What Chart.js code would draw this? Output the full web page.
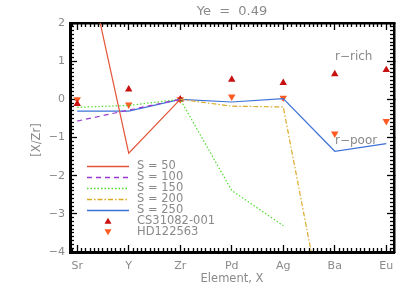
<!DOCTYPE html>
<html>
<head>
<meta charset="utf-8">
<script src="https://cdn.jsdelivr.net/npm/chart.js@4/dist/chart.umd.min.js"></script>
<style>
  html, body { margin: 0; padding: 0; background: #fff; }
  #wrap { width: 415px; height: 297px; }
</style>
</head>
<body>
<div id="wrap"><canvas id="ye-chart" width="415" height="297"></canvas></div>
<script>
  var elements = ['Sr', 'Y', 'Zr', 'Pd', 'Ag', 'Ba', 'Eu'];
  var yTicks = [2, 1, 0, -1, -2, -3, -4];

  // model curves, [X/Zr]
  var s50  = [4.75, -1.41, 0, null, null, null, null];
  var s100 = [-0.57, -0.28, 0, null, null, null, null];
  var s150 = [-0.21, -0.16, 0, -2.39, -3.31, null, null];
  var s200 = [null, null, 0, -0.18, -0.2, -7.2, null];
  var s250 = [-0.31, -0.31, 0, -0.07, 0.02, -1.36, -1.16];

  // stars
  var cs31082 = [-0.12, 0.26, 0, 0.52, 0.43, 0.66, 0.77];
  var hd122563 = [0.0, -0.14, 0, 0.07, 0.04, -0.9, -0.57];

  var grey = '#8a8a8a';
  var fnt = '"DejaVu Sans", sans-serif';
  var frameColor = '#000000';
  var xMin = -0.14, xMax = 6.15;

  function pts(arr) {
    var out = [];
    for (var i = 0; i < arr.length; i++) {
      out.push({ x: i, y: arr[i] });
    }
    return out;
  }

  function lineSet(label, arr, color, dash) {
    return {
      type: 'line', label: label, data: pts(arr), xAxisID: 'x', yAxisID: 'y',
      borderColor: color, backgroundColor: color, borderWidth: 1.2,
      borderDash: dash, pointRadius: 0, fill: false, spanGaps: false, tension: 0
    };
  }

  var legendRows = [
    { text: 'S = 50',  color: '#e2553a', dash: [] },
    { text: 'S = 100', color: '#9a3ad0', dash: [5, 4] },
    { text: 'S = 150', color: '#4fdc2a', dash: [1.5, 2] },
    { text: 'S = 200', color: '#dcaa2a', dash: [5, 2, 1.5, 2] },
    { text: 'S = 250', color: '#3d72d8', dash: [] },
    { text: 'CS31082-001', color: '#c81010', marker: 'up' },
    { text: 'HD122563', color: '#ff5a22', marker: 'down' }
  ];

  function tri(c, x, y, r, down, color) {
    c.save();
    c.fillStyle = color;
    c.beginPath();
    if (down) {
      c.moveTo(x - r, y - r * 0.8); c.lineTo(x + r, y - r * 0.8); c.lineTo(x, y + r * 0.9);
    } else {
      c.moveTo(x - r, y + r * 0.8); c.lineTo(x + r, y + r * 0.8); c.lineTo(x, y - r * 0.9);
    }
    c.closePath();
    c.fill();
    c.restore();
  }

  // titles, legend and labels
  var decor = {
    id: 'decor',
    afterDraw: function (chart) {
      var c = chart.ctx, a = chart.chartArea;
      var L = a.left, R = a.right, T = a.top, B = a.bottom;
      var i;
      c.save();
      // make left and bottom edges as solid as top and right
      c.fillStyle = frameColor;
      c.fillRect(Math.round(L) - 1, Math.round(T) - 1, 3, Math.round(B - T) + 2);
      c.fillRect(Math.round(L) - 1, Math.round(B) - 1, Math.round(R - L) + 2, 3);

      c.fillStyle = grey;
      c.textAlign = 'center';
      c.textBaseline = 'middle';
      c.font = '13px ' + fnt;
      c.fillText('Ye  =  0.49', (L + R) / 2, 12);
      c.font = '11.5px ' + fnt;
      c.fillText('Element, X', (L + R) / 2, 279);
      c.save();
      c.translate(37, 140);
      c.rotate(-Math.PI / 2);
      c.fillText('[X/Zr]', 0, 0);
      c.restore();

      c.textAlign = 'left';
      c.font = '12px ' + fnt;
      c.fillText('r\u2212rich', 335, 57);
      c.fillText('r\u2212poor', 335, 141);

      // legend
      c.font = '11.5px ' + fnt;
      for (i = 0; i < legendRows.length; i++) {
        var r = legendRows[i];
        var ry = 166 + i * 11;
        if (r.marker) {
          tri(c, 108, ry, 3.5, r.marker === 'down', r.color);
        } else {
          c.save();
          c.strokeStyle = r.color;
          c.lineWidth = 1.3;
          c.setLineDash(r.dash);
          c.beginPath();
          c.moveTo(87, ry + 0.5); c.lineTo(129, ry + 0.5);
          c.stroke();
          c.restore();
        }
        c.fillStyle = grey;
        c.fillText(r.text, 137, ry);
      }
      c.restore();
    }
  };

  // tick positions for the boxed frame
  function xMajor(s) {
    s.ticks = elements.map(function (e, i) { return { value: i }; });
  }
  function xMinor(s) {
    var t = [];
    for (var i = -1; i <= 7; i++) {
      for (var k = 1; k < 12; k++) {
        var v = i + k / 12;
        if (v >= xMin && v <= xMax) t.push({ value: v });
      }
    }
    s.ticks = t;
  }
  function yMajor(s) {
    s.ticks = yTicks.map(function (t) { return { value: t }; });
  }
  function yMinor(s) {
    var t = [];
    for (var i = -4; i < 2; i++) {
      for (var k = 1; k < 10; k++) {
        t.push({ value: i + k / 10 });
      }
    }
    s.ticks = t;
  }

  // an extra axis that only draws inward tick marks on one side of the box
  function tickAxis(pos, isX, build, len, weight, border) {
    var o = {
      type: 'linear', position: pos, weight: weight,
      afterBuildTicks: build,
      afterFit: function (s) { if (isX) { s.height = 0; } else { s.width = 0; } },
      grid: {
        display: true, drawOnChartArea: false, drawTicks: true, tickLength: -len,
        color: frameColor, tickColor: frameColor, tickWidth: 1.3
      },
      border: { display: border, color: frameColor, width: 2.5 },
      ticks: { display: false }
    };
    if (isX) { o.min = xMin; o.max = xMax; } else { o.min = -4; o.max = 2; }
    return o;
  }

  var ctx = document.getElementById('ye-chart').getContext('2d');
  var yeChart = new Chart(ctx, {
    data: {
      datasets: [
        lineSet('S = 50', s50, legendRows[0].color, legendRows[0].dash),
        lineSet('S = 100', s100, legendRows[1].color, legendRows[1].dash),
        lineSet('S = 150', s150, legendRows[2].color, legendRows[2].dash),
        lineSet('S = 200', s200, legendRows[3].color, legendRows[3].dash),
        lineSet('S = 250', s250, legendRows[4].color, legendRows[4].dash),
        {
          type: 'scatter', label: 'CS31082-001', data: pts(cs31082), xAxisID: 'x', yAxisID: 'y',
          pointStyle: 'triangle', pointRadius: 4.3, borderWidth: 0,
          backgroundColor: legendRows[5].color, borderColor: legendRows[5].color
        },
        {
          type: 'scatter', label: 'HD122563', data: pts(hd122563), xAxisID: 'x', yAxisID: 'y',
          pointStyle: 'triangle', rotation: 180, pointRadius: 4.3, borderWidth: 0,
          backgroundColor: legendRows[6].color, borderColor: legendRows[6].color
        }
      ]
    },
    options: {
      responsive: false,
      animation: false,
      layout: { padding: { top: 23, right: 21, left: 0, bottom: 0 } },
      plugins: { legend: { display: false }, title: { display: false }, tooltip: { enabled: false } },
      scales: {
        x: {
          type: 'linear', position: 'bottom', weight: 1, min: xMin, max: xMax,
          afterFit: function (s) { s.height = 45; },
          afterBuildTicks: xMajor,
          grid: {
            display: true, drawOnChartArea: false, drawTicks: true, tickLength: -7,
            color: frameColor, tickColor: frameColor, tickWidth: 1.3
          },
          border: { display: true, color: frameColor, width: 2.5 },
          ticks: {
            padding: 15, color: grey, font: { family: fnt, size: 11 },
            autoSkip: false, maxRotation: 0,
            callback: function (v) { return elements[Math.round(v)]; }
          }
        },
        xm: tickAxis('bottom', true, xMinor, 4, 0, false),
        xt: tickAxis('top', true, xMajor, 7, 1, true),
        xtm: tickAxis('top', true, xMinor, 4, 0, false),
        y: {
          type: 'linear', position: 'left', weight: 1, min: -4, max: 2,
          afterFit: function (s) { s.width = 70; },
          afterBuildTicks: yMajor,
          grid: {
            display: true, drawOnChartArea: false, drawTicks: true, tickLength: -7,
            color: frameColor, tickColor: frameColor, tickWidth: 1.3
          },
          border: { display: true, color: frameColor, width: 2.5 },
          ticks: {
            padding: 12, color: grey, font: { family: fnt, size: 11 }, autoSkip: false,
            callback: function (v) { return v < 0 ? '\u2212' + Math.abs(v) : String(v); }
          }
        },
        ym: tickAxis('left', false, yMinor, 4, 0, false),
        yr: tickAxis('right', false, yMajor, 7, 1, true),
        yrm: tickAxis('right', false, yMinor, 4, 0, false)
      }
    },
    plugins: [decor]
  });
</script>
</body>
</html>
